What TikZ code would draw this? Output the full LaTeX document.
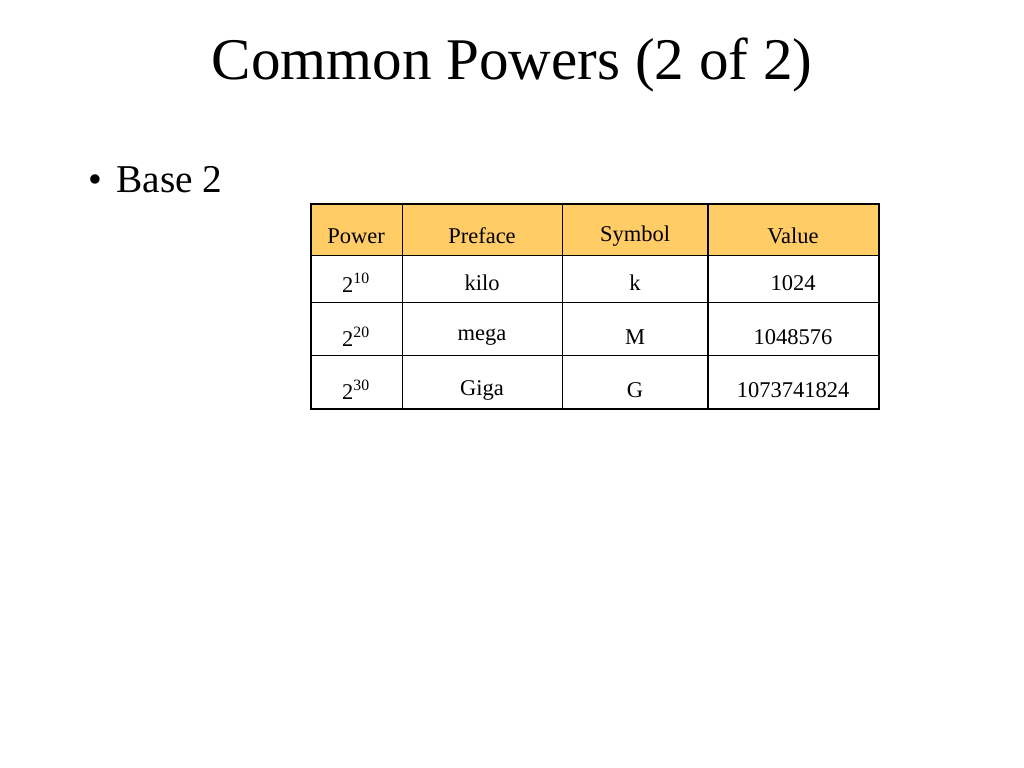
\documentclass[tikz,border=0pt]{standalone}
\usepackage{fontspec}
\setmainfont{Liberation Serif}
\definecolor{headfill}{HTML}{FFCC66}
\tikzset{
    cell/.style={font=\fontsize{16}{18}\selectfont, inner sep=0pt},
    thinline/.style={line width=0.6pt, black},
    thickline/.style={line width=1.6pt, black},
}
\begin{document}
\begin{tikzpicture}[x=0.025cm,y=-0.025cm]
    \useasboundingbox (0,0) rectangle (1024,768);
    \node (title) at (512,65) {\fontsize{42}{46}\selectfont Common Powers (2 of 2)};
    \node[anchor=west] (bullet) at (84,180) {\fontsize{28}{32}\selectfont \textbullet\hspace{0.35em}Base 2};
    % header
    \fill[headfill] (311,204) rectangle (879,255);
    % grid
    \foreach \y in {255,302,355} \draw[thinline] (311,\y) -- (879,\y);
    \foreach \x in {402,562} \draw[thinline] (\x,204) -- (\x,409);
    \draw[thickline] (708,204) -- (708,409);
    \draw[thickline] (311,204) rectangle (879,409);
    % cells
    \node[cell] (hpow) at (356,236) {Power};
    \node[cell] (hpre) at (482,236) {Preface};
    \node[cell] (hsym) at (635,236) {Symbol};
    \node[cell] (hval) at (793,236) {Value};
    \node[cell] (p1) at (356,283) {2\textsuperscript{10}};
    \node[cell] (f1) at (482,283) {kilo};
    \node[cell] (s1) at (635,283) {k};
    \node[cell] (v1) at (793,283) {1024};
    \node[cell] (p2) at (356,337) {2\textsuperscript{20}};
    \node[cell] (f2) at (482,337) {mega};
    \node[cell] (s2) at (635,337) {M};
    \node[cell] (v2) at (793,337) {1048576};
    \node[cell] (p3) at (356,390) {2\textsuperscript{30}};
    \node[cell] (f3) at (482,390) {Giga};
    \node[cell] (s3) at (635,390) {G};
    \node[cell] (v3) at (793,390) {1073741824};
\end{tikzpicture}
\end{document}
